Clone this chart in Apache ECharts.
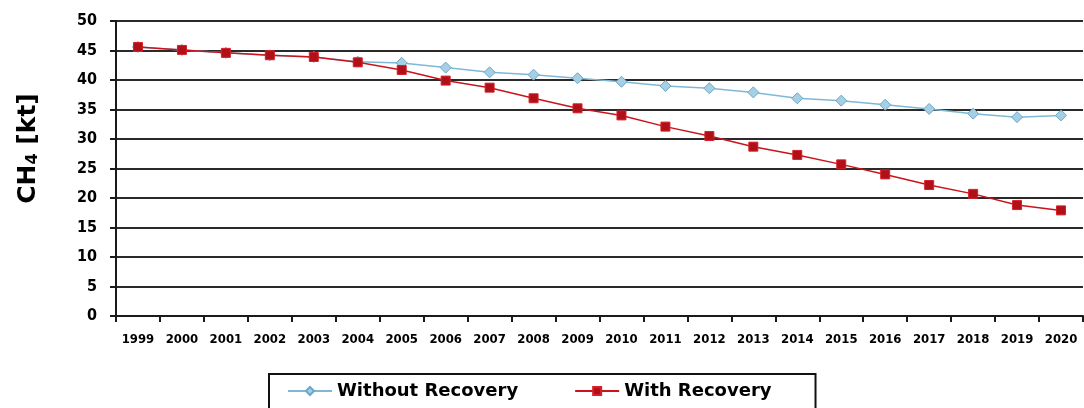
<!DOCTYPE html>
<html>
<head>
<meta charset="utf-8">
<script src="https://cdn.jsdelivr.net/npm/echarts@6/dist/echarts.min.js"></script>
<style>
  html, body { margin: 0; padding: 0; background: #fff; }
  #chart { width: 1084px; height: 408px; }
</style>
</head>
<body>
<div id="chart"></div>
<script>
// Years on the category axis
const years = ['1999', '2000', '2001', '2002', '2003', '2004', '2005', '2006', '2007', '2008', '2009',
  '2010', '2011', '2012', '2013', '2014', '2015', '2016', '2017', '2018', '2019', '2020'];

// CH4 emissions [kt] without landfill gas recovery
const withoutRecovery = [45.6, 45.1, 44.6, 44.2, 43.9, 43.1, 42.9, 42.1, 41.3, 40.9, 40.3,
  39.7, 39.0, 38.6, 37.9, 36.9, 36.5, 35.8, 35.1, 34.3, 33.7, 34.0];

// CH4 emissions [kt] with landfill gas recovery
const withRecovery = [45.6, 45.1, 44.6, 44.2, 43.9, 43.0, 41.7, 39.9, 38.7, 36.9, 35.2,
  34.0, 32.1, 30.5, 28.7, 27.3, 25.7, 24.0, 22.2, 20.7, 18.8, 17.9];

const seriesNames = ['Without Recovery', 'With Recovery'];

const chart = echarts.init(document.getElementById('chart'), null, { renderer: 'canvas' });

const boldCond = 'DejaVu Sans Condensed';

chart.setOption({
  animation: false,
  backgroundColor: '#ffffff',
  grid: { left: 116, right: 1, top: 21, bottom: 92 },
  legend: {
    data: seriesNames,
    left: 269,
    top: 374,
    padding: [8, 44, 20, 18],
    itemGap: 56,
    itemWidth: 44,
    itemHeight: 10,
    borderColor: '#111',
    borderWidth: 2,
    textStyle: { fontFamily: 'DejaVu Sans', fontWeight: 'bold', fontSize: 18, color: '#000' }
  },
  xAxis: {
    type: 'category',
    data: years,
    boundaryGap: true,
    axisLine: { lineStyle: { color: '#1a1a1a', width: 2 } },
    axisTick: { show: true, length: 6, lineStyle: { color: '#1a1a1a', width: 2 } },
    axisLabel: { margin: 17, fontFamily: boldCond, fontWeight: 'bold', fontSize: 13, color: '#000', interval: 0 },
    splitLine: { show: false }
  },
  yAxis: {
    type: 'value',
    min: 0,
    max: 50,
    interval: 5,
    name: '{a|CH}{s|4}{a| [kt]}',
    nameLocation: 'middle',
    nameGap: 75,
    nameTextStyle: {
      padding: [0, 0, 0, 40],
      rich: {
        a: { fontFamily: 'DejaVu Sans', fontWeight: 'bold', fontSize: 25, color: '#000' },
        s: { fontFamily: 'DejaVu Sans', fontWeight: 'bold', fontSize: 16, color: '#000', verticalAlign: 'bottom', padding: [9, 0, 0, 0] }
      }
    },
    axisLine: { show: true, lineStyle: { color: '#1a1a1a', width: 2 } },
    axisTick: { show: true, length: 6, lineStyle: { color: '#1a1a1a', width: 2 } },
    axisLabel: { margin: 19, fontFamily: boldCond, fontWeight: 'bold', fontSize: 16, color: '#000' },
    splitLine: { show: true, lineStyle: { color: '#2a2a2a', width: 2 } }
  },
  series: [
    {
      name: seriesNames[0],
      type: 'line',
      data: withoutRecovery,
      symbol: 'diamond',
      symbolSize: 11,
      lineStyle: { color: '#7fb8d6', width: 1.5 },
      itemStyle: { color: '#a6cfe3', borderColor: '#6aa8ca', borderWidth: 1 },
      z: 2
    },
    {
      name: seriesNames[1],
      type: 'line',
      data: withRecovery,
      symbol: 'rect',
      symbolSize: 9,
      lineStyle: { color: '#c8141c', width: 1.5 },
      itemStyle: { color: '#b01018', borderColor: '#d82028', borderWidth: 1 },
      z: 3
    }
  ]
});
</script>
</body>
</html>
